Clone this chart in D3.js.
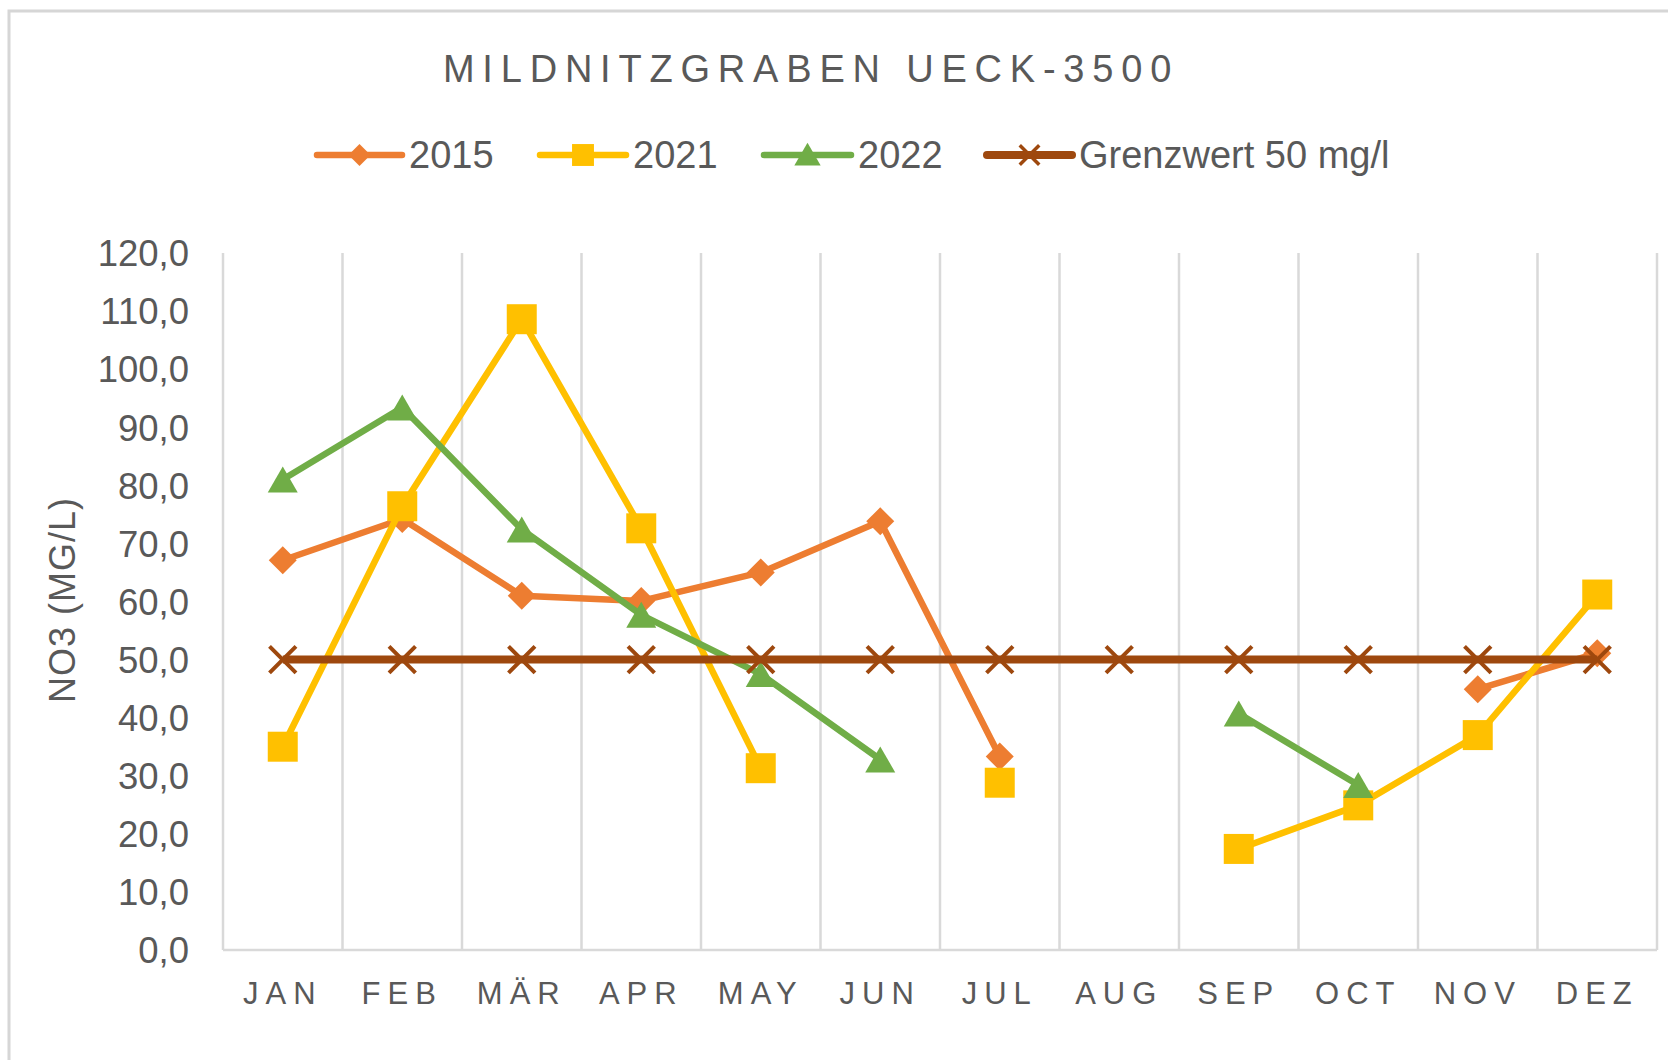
<!DOCTYPE html>
<html>
<head>
<meta charset="utf-8">
<script src="https://cdn.jsdelivr.net/npm/d3@7"></script>
<style>
  html, body { margin: 0; padding: 0; background: #ffffff; }
  svg { display: block; }
</style>
</head>
<body>
<svg id="chart" width="1668" height="1060"></svg>
<script>
// ---- data ----
const months = ["JAN", "FEB", "MÄR", "APR", "MAY", "JUN", "JUL", "AUG", "SEP", "OCT", "NOV", "DEZ"];
const seriesNames = ["2015", "2021", "2022", "Grenzwert 50 mg/l"];
const values2015 = [67.1, 74.2, 61.0, 60.1, 65.0, 73.8, 33.3, null, null, null, 44.9, 51.1];
const values2021 = [35.0, 76.4, 108.6, 72.6, 31.3, null, 28.8, null, 17.4, 24.9, 37.0, 61.2];
const values2022 = [81.0, 93.4, 72.4, 57.7, 47.5, 32.8, null, null, 40.7, 28.4, null, null];
const valuesLimit = [50, 50, 50, 50, 50, 50, 50, 50, 50, 50, 50, 50];
const yTicks = [0, 10, 20, 30, 40, 50, 60, 70, 80, 90, 100, 110, 120];
const titleText = "MILDNITZGRABEN UECK-3500";
const yTitle = "NO3 (MG/L)";

// ---- styles ----
const colors = ["#ED7D31", "#FFC000", "#70AD47", "#9E480E"];
const textColor = "#595959";
const gridColor = "#D9D9D9";
const font = "'Liberation Sans', Arial, sans-serif";

const svg = d3.select("#chart");

// frame
svg.append("rect")
  .attr("x", 9).attr("y", 11).attr("width", 1720).attr("height", 1120)
  .attr("fill", "#fff").attr("stroke", "#D6D6D6").attr("stroke-width", 3);

const plotL = 223, plotR = 1657, plotT = 253, plotB = 950;
const x = d3.scaleBand().domain(months).range([plotL, plotR]).padding(0);
const y = d3.scaleLinear().domain([0, 120]).range([plotB, plotT]);

// vertical gridlines at band boundaries
const bounds = months.map(m => x(m)).concat([x.range()[1]]);
svg.append("g").selectAll("line").data(bounds).join("line")
  .attr("x1", d => d).attr("x2", d => d)
  .attr("y1", y(120)).attr("y2", y(0))
  .attr("stroke", gridColor).attr("stroke-width", 2.5);
// baseline
svg.append("line")
  .attr("x1", plotL).attr("x2", plotR).attr("y1", y(0)).attr("y2", y(0))
  .attr("stroke", gridColor).attr("stroke-width", 2.5);

// y axis labels
const fmt = v => d3.format(".1f")(v).replace(".", ",");
const yAxis = d3.axisLeft(y).tickValues(yTicks).tickFormat(fmt).tickSize(0).tickPadding(0);
const gy = svg.append("g").attr("transform", "translate(189,0)").call(yAxis);
gy.select(".domain").remove();
gy.selectAll("text")
  .attr("fill", textColor).attr("font-family", font).attr("font-size", 36.5)
  .attr("dy", "0.35em");

// x axis labels
const xAxis = d3.axisBottom(x).tickSize(0).tickPadding(0);
const gx = svg.append("g").attr("transform", `translate(0,${plotB})`).call(xAxis);
gx.select(".domain").remove();
gx.selectAll("text")
  .attr("fill", textColor).attr("font-family", font).attr("font-size", 31)
  .attr("letter-spacing", 7).attr("y", 43).attr("dy", "0.35em")
  .attr("dx", 0);

// title
svg.append("text")
  .attr("x", 811).attr("y", 69).attr("dy", "0.35em")
  .attr("text-anchor", "middle")
  .attr("fill", textColor).attr("font-family", font).attr("font-size", 38)
  .attr("letter-spacing", 7.8)
  .text(titleText);

// y title
svg.append("text")
  .attr("transform", "translate(62,600) rotate(-90)")
  .attr("dy", "0.35em").attr("text-anchor", "middle")
  .attr("fill", textColor).attr("font-family", font).attr("font-size", 36)
  .attr("letter-spacing", 1)
  .text(yTitle);

// symbols
const symX = {
  draw(ctx, size) {
    const h = Math.sqrt(size) / 2;
    ctx.moveTo(-h, -h); ctx.lineTo(h, h);
    ctx.moveTo(h, -h); ctx.lineTo(-h, h);
  }
};
const markerDefs = [
  { type: d3.symbolSquare, size: 392, rotate: 45, dy: 0, stroke: false, lsize: 240 },
  { type: d3.symbolSquare, size: 900, rotate: 0, dy: 0, stroke: false, lsize: 480 },
  { type: d3.symbolTriangle, size: 390, rotate: 0, dy: 4.3, stroke: false, lsize: 300 },
  { type: symX, size: 700, rotate: 0, dy: 0, stroke: true, lsize: 380 }
];
const lineWidths = [6.5, 6.5, 6.5, 8];
const allSeries = [values2015, values2021, values2022, valuesLimit];

const cx = m => x(m) + x.bandwidth() / 2;
const line = d3.line()
  .defined(d => d.v !== null)
  .x(d => cx(d.m)).y(d => y(d.v));

allSeries.forEach((vals, i) => {
  const data = vals.map((v, j) => ({ m: months[j], v }));
  const g = svg.append("g");
  g.append("path").datum(data)
    .attr("d", line)
    .attr("fill", "none").attr("stroke", colors[i])
    .attr("stroke-width", lineWidths[i]).attr("stroke-linejoin", "round");
  const md = markerDefs[i];
  const sym = d3.symbol().type(md.type).size(md.size);
  g.selectAll("path.mk").data(data.filter(d => d.v !== null)).join("path")
    .attr("class", "mk")
    .attr("d", sym)
    .attr("transform", d => `translate(${cx(d.m)},${y(d.v) + md.dy}) rotate(${md.rotate})`)
    .attr("fill", md.stroke ? "none" : colors[i])
    .attr("stroke", md.stroke ? colors[i] : "none")
    .attr("stroke-width", md.stroke ? 4 : 0);
});

// legend
const legendItems = [
  { x0: 317, x1: 402 },
  { x0: 540, x1: 626 },
  { x0: 764, x1: 851 },
  { x0: 987, x1: 1072 }
];
const ly = 155;
const lg = svg.append("g");
seriesNames.forEach((name, i) => {
  const it = legendItems[i];
  lg.append("line")
    .attr("x1", it.x0).attr("x2", it.x1).attr("y1", ly).attr("y2", ly)
    .attr("stroke", colors[i]).attr("stroke-width", lineWidths[i]).attr("stroke-linecap", "round");
  const md = markerDefs[i];
  lg.append("path")
    .attr("d", d3.symbol().type(md.type).size(md.lsize))
    .attr("transform", `translate(${(it.x0 + it.x1) / 2},${ly + md.dy * 0.7}) rotate(${md.rotate})`)
    .attr("fill", md.stroke ? "none" : colors[i])
    .attr("stroke", md.stroke ? colors[i] : "none")
    .attr("stroke-width", md.stroke ? 3.5 : 0);
  lg.append("text")
    .attr("x", it.x1 + 7).attr("y", ly).attr("dy", "0.35em")
    .attr("fill", textColor).attr("font-family", font).attr("font-size", 38)
    .text(name);
});
</script>
</body>
</html>
